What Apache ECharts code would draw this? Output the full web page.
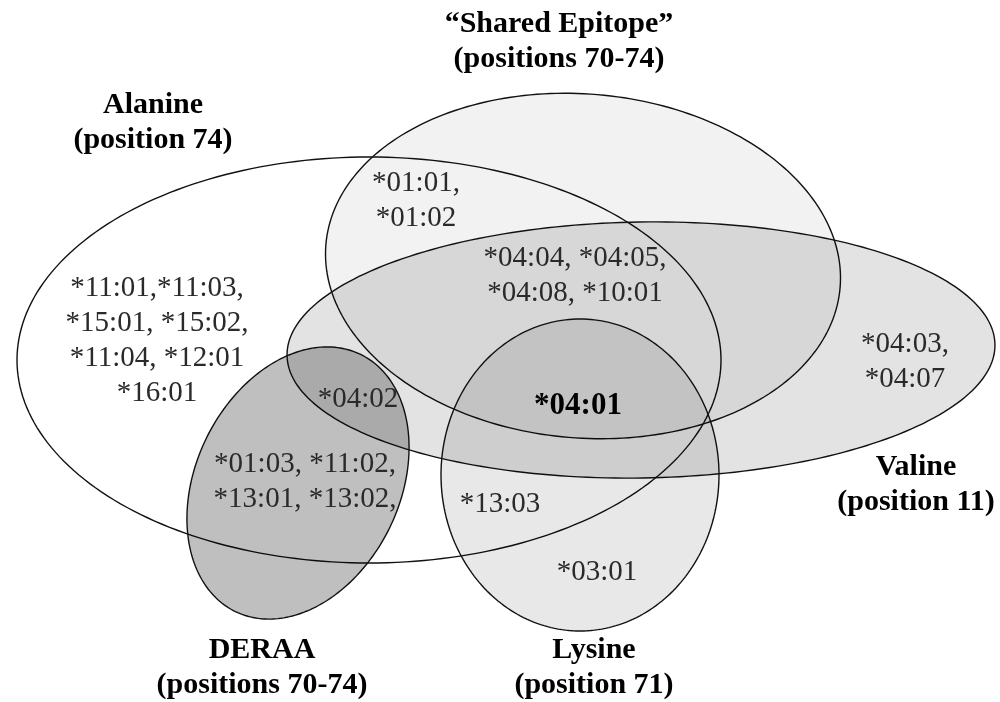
<!DOCTYPE html>
<html>
<head>
<meta charset="utf-8">
<script src="https://cdn.jsdelivr.net/npm/echarts@6/dist/echarts.min.js"></script>
<style>
  html, body { margin: 0; background: #fff; }
  #chart { width: 1000px; height: 702px; }
</style>
</head>
<body>
<div id="chart"></div>
<script>
// sets: ellipse centre / semi-axes / tilt (deg, clockwise) in picture units
const setNames = ['Alanine', 'Shared Epitope', 'Valine', 'DERAA', 'Lysine'];
const setCx = [369, 583, 641, 298, 580];
const setCy = [360, 266, 350, 483, 475];
const setRx = [352, 258, 354, 102, 139];
const setRy = [203, 172, 128, 143, 156];
const setTilt = [0, 4.8, -0.9, 26, 0];

const setTitles = ['Alanine', '\u201CShared Epitope\u201D', 'Valine', 'DERAA', 'Lysine'];
const setSubtitles = ['(position 74)', '(positions 70-74)', '(position 11)', '(positions 70-74)', '(position 71)'];
const titleX = [153, 559, 916, 262, 594];
const titleY = [105, 24, 467, 650, 650];

// alleles in each region
const alleleLines = [
  ['*11:01,*11:03,', '*15:01, *15:02,', '*11:04, *12:01', '*16:01'],
  ['*01:01,', '*01:02'],
  ['*04:04, *04:05,', '*04:08, *10:01'],
  ['*04:03,', '*04:07'],
  ['*04:02'],
  ['*01:03, *11:02,', '*13:01, *13:02,'],
  ['*04:01'],
  ['*13:03'],
  ['*03:01']
];
const alleleX = [157, 416, 575, 905, 358, 305, 578, 500, 597];
const alleleY = [288, 183, 258, 344, 399, 464, 406, 504, 572];
const coreAllele = '*04:01';

const setShade = [0, 0.05, 0.11, 0.25, 0.09];
const LINE = 35;

const chart = echarts.init(document.getElementById('chart'));

const option = {
  animation: false,
  backgroundColor: '#fff',
  grid: { left: 0, right: 0, top: 0, bottom: 0 },
  xAxis: { type: 'value', min: 0, max: 1000, show: false },
  yAxis: { type: 'value', min: 0, max: 702, inverse: true, show: false },
  series: [
    {
      type: 'custom',
      silent: true,
      z: 1,
      data: setNames.map((n, i) => [setCx[i], setCy[i], setRx[i], setRy[i], setTilt[i]]),
      renderItem(params, api) {
        const cx = api.value(0), cy = api.value(1);
        const rx = api.value(2), ry = api.value(3);
        const a = api.value(4) * Math.PI / 180;
        const pts = [];
        for (let k = 0; k < 240; k++) {
          const t = k / 240 * Math.PI * 2;
          const lx = rx * Math.cos(t), ly = ry * Math.sin(t);
          pts.push(api.coord([
            cx + lx * Math.cos(a) - ly * Math.sin(a),
            cy + lx * Math.sin(a) + ly * Math.cos(a)
          ]));
        }
        const s = setShade[params.dataIndex];
        return {
          type: 'polygon',
          shape: { points: pts },
          style: {
            fill: s ? 'rgba(0,0,0,' + s + ')' : 'none',
            stroke: '#111',
            lineWidth: 1.4
          }
        };
      }
    },
    {
      type: 'custom',
      silent: true,
      z: 3,
      data: alleleX.map((x, i) => [x, alleleY[i] + (alleleLines[i].length - 1) * LINE / 2]),
      renderItem(params, api) {
        const p = api.coord([api.value(0), api.value(1)]);
        const lines = alleleLines[params.dataIndex];
        const bold = lines[0] === coreAllele;
        return {
          type: 'text',
          x: p[0], y: p[1],
          style: {
            text: lines.join('\n'),
            fontFamily: '"Liberation Serif", "Times New Roman", serif',
            fontSize: bold ? 31 : 29,
            fontWeight: bold ? 'bold' : 'normal',
            lineHeight: LINE,
            fill: bold ? '#000' : '#2a2a2a',
            align: 'center',
            verticalAlign: 'middle'
          }
        };
      }
    },
    {
      type: 'custom',
      silent: true,
      z: 3,
      data: titleX.map((x, i) => [x, titleY[i] + LINE / 2]),
      renderItem(params, api) {
        const p = api.coord([api.value(0), api.value(1)]);
        const i = params.dataIndex;
        return {
          type: 'text',
          x: p[0], y: p[1],
          style: {
            text: setTitles[i] + '\n' + setSubtitles[i],
            fontFamily: '"Liberation Serif", "Times New Roman", serif',
            fontSize: 30,
            fontWeight: 'bold',
            lineHeight: LINE,
            fill: '#000',
            align: 'center',
            verticalAlign: 'middle'
          }
        };
      }
    }
  ]
};

chart.setOption(option);
</script>
</body>
</html>
